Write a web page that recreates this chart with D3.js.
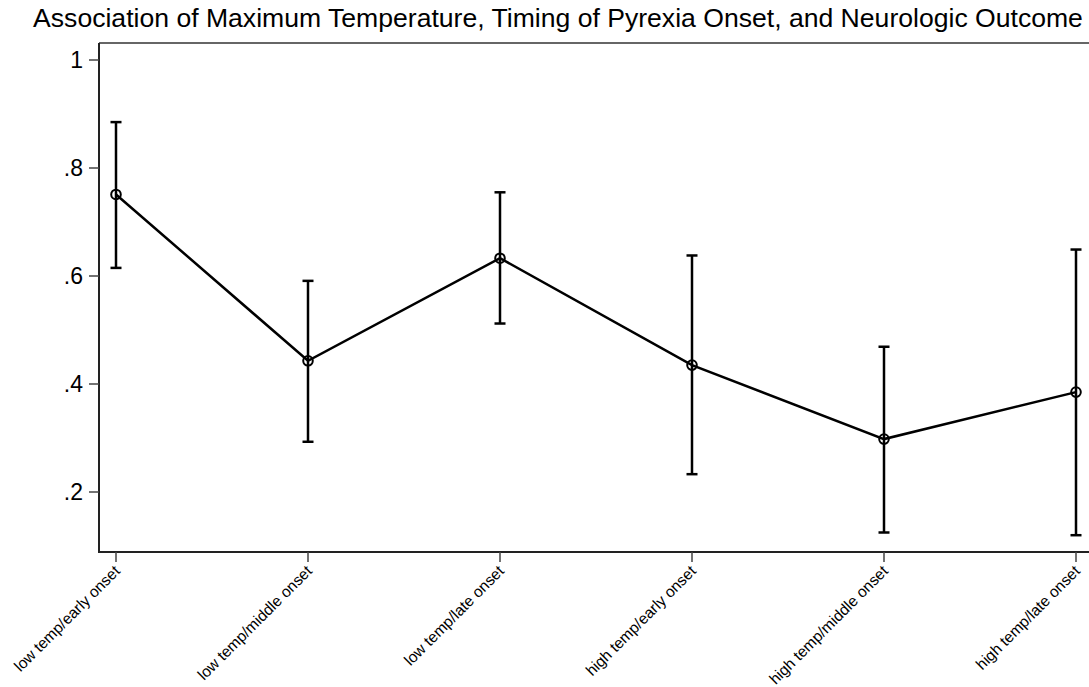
<!DOCTYPE html>
<html>
<head>
<meta charset="utf-8">
<script src="https://cdn.jsdelivr.net/npm/d3@7"></script>
<style>
  body { margin: 0; background: #fff; }
  svg { display: block; font-family: "Liberation Sans", Arial, sans-serif; }
</style>
</head>
<body>
<svg id="chart" width="1089" height="687"></svg>
<script>
const categories = [
  'low temp/early onset', 'low temp/middle onset', 'low temp/late onset',
  'high temp/early onset', 'high temp/middle onset', 'high temp/late onset'
]
const means = [0.751, 0.443, 0.633, 0.435, 0.298, 0.385]
const lower = [0.615, 0.293, 0.512, 0.233, 0.125, 0.120]
const upper = [0.885, 0.591, 0.755, 0.638, 0.469, 0.649]
const yTicks = [0.2, 0.4, 0.6, 0.8, 1]
const title = 'Association of Maximum Temperature, Timing of Pyrexia Onset, and Neurologic Outcome'

const svg = d3.select('#chart')
const width = 1089
const plotLeft = 99, plotTop = 43, plotBottom = 552

const x = d3.scalePoint()
  .domain(categories)
  .range([116, 1076])

const y = d3.scaleLinear()
  .domain([0, 1])
  .range([600, 60])

const data = categories.map((c, i) => ({cat: c, mean: means[i], lo: lower[i], hi: upper[i]}))

// title, sized to span the width it has in the original
const t = svg.append('text')
  .attr('x', 558)
  .attr('y', 27)
  .attr('text-anchor', 'middle')
  .attr('font-size', 20)
  .attr('fill', '#000')
  .text(title)
const tw = t.node().getComputedTextLength()
t.attr('font-size', 20 * 1050 / tw)

// frame top line
svg.append('line')
  .attr('x1', plotLeft).attr('x2', width)
  .attr('y1', plotTop).attr('y2', plotTop)
  .attr('stroke', '#333').attr('stroke-width', 1.5)

// y axis
const yAxis = svg.append('g')
yAxis.append('line')
  .attr('x1', plotLeft).attr('x2', plotLeft)
  .attr('y1', plotTop).attr('y2', plotBottom + 1)
  .attr('stroke', '#222').attr('stroke-width', 2)
yAxis.selectAll('line.tick')
  .data(yTicks)
  .join('line')
  .attr('class', 'tick')
  .attr('x1', 89).attr('x2', plotLeft)
  .attr('y1', d => y(d)).attr('y2', d => y(d))
  .attr('stroke', '#444').attr('stroke-width', 1.5)
yAxis.selectAll('text')
  .data(yTicks)
  .join('text')
  .attr('x', 83)
  .attr('y', d => y(d))
  .attr('dy', '0.36em')
  .attr('text-anchor', 'end')
  .attr('font-size', 23)
  .text(d => d === 1 ? '1' : d3.format('.1f')(d).replace(/^0/, ''))

// x axis
const xAxis = svg.append('g')
xAxis.append('line')
  .attr('x1', plotLeft).attr('x2', width)
  .attr('y1', plotBottom).attr('y2', plotBottom)
  .attr('stroke', '#222').attr('stroke-width', 2)
xAxis.selectAll('line.tick')
  .data(categories)
  .join('line')
  .attr('class', 'tick')
  .attr('x1', d => x(d)).attr('x2', d => x(d))
  .attr('y1', plotBottom).attr('y2', plotBottom + 10)
  .attr('stroke', '#444').attr('stroke-width', 1.5)
xAxis.selectAll('text')
  .data(categories)
  .join('text')
  .attr('transform', d => `translate(${x(d) + 5}, ${plotBottom + 20}) rotate(-45)`)
  .attr('text-anchor', 'end')
  .attr('font-size', 15.5)
  .text(d => d)

// error bars
const bars = svg.append('g')
  .attr('stroke', '#000')
  .attr('stroke-width', 2.5)
bars.selectAll('line.v')
  .data(data)
  .join('line')
  .attr('class', 'v')
  .attr('x1', d => x(d.cat)).attr('x2', d => x(d.cat))
  .attr('y1', d => y(d.lo)).attr('y2', d => y(d.hi))
bars.selectAll('line.hi')
  .data(data)
  .join('line')
  .attr('class', 'hi')
  .attr('x1', d => x(d.cat) - 5.5).attr('x2', d => x(d.cat) + 5.5)
  .attr('y1', d => y(d.hi)).attr('y2', d => y(d.hi))
bars.selectAll('line.lo')
  .data(data)
  .join('line')
  .attr('class', 'lo')
  .attr('x1', d => x(d.cat) - 5.5).attr('x2', d => x(d.cat) + 5.5)
  .attr('y1', d => y(d.lo)).attr('y2', d => y(d.lo))

// connecting line
const line = d3.line()
  .x(d => x(d.cat))
  .y(d => y(d.mean))
svg.append('path')
  .datum(data)
  .attr('d', line)
  .attr('fill', 'none')
  .attr('stroke', '#000')
  .attr('stroke-width', 2.5)

// markers
svg.selectAll('circle')
  .data(data)
  .join('circle')
  .attr('cx', d => x(d.cat))
  .attr('cy', d => y(d.mean))
  .attr('r', 4.8)
  .attr('fill', 'none')
  .attr('stroke', '#000')
  .attr('stroke-width', 2)
</script>
</body>
</html>
